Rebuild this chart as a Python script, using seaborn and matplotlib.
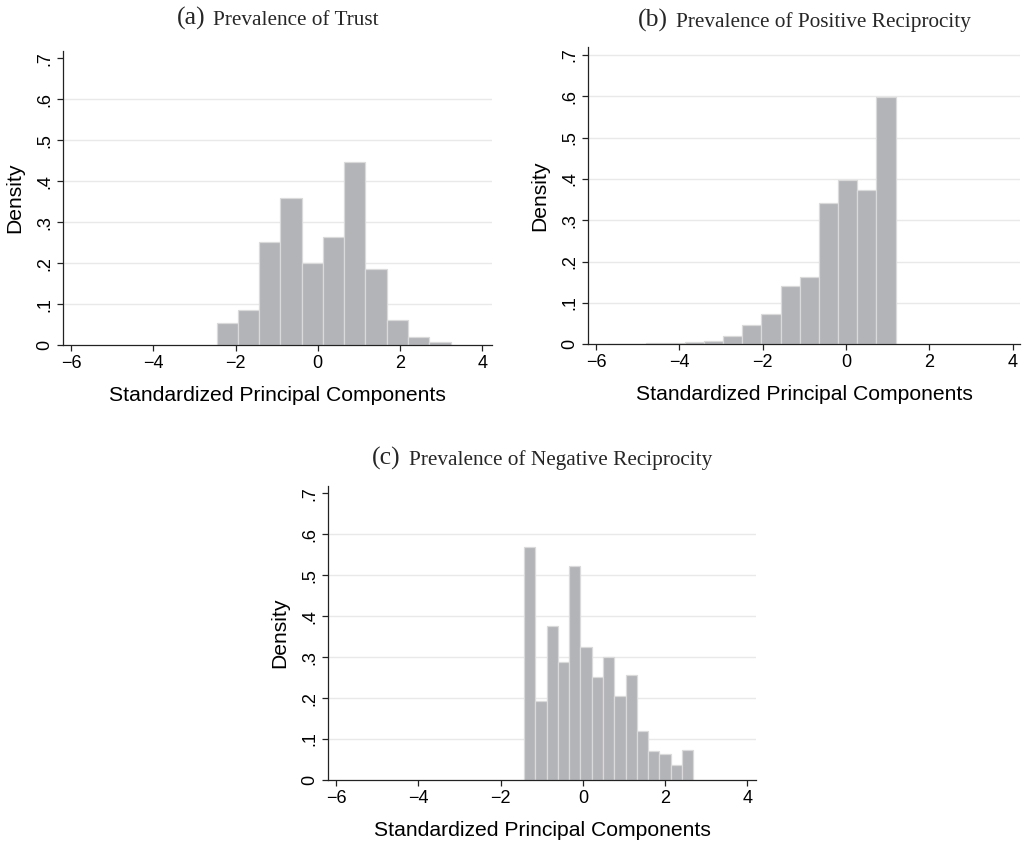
import numpy as np
import pandas as pd
import matplotlib
matplotlib.use("Agg")
import matplotlib.pyplot as plt
import seaborn as sns

# ---------------- data ----------------
# Panel (a) Trust
trust_start = -2.46
trust_width = 0.517
trust_heights = [0.054, 0.085, 0.252, 0.359, 0.200, 0.264, 0.448, 0.186, 0.062, 0.019, 0.0066]

# Panel (b) Positive reciprocity
posrec_start = -5.715
posrec_width = 0.4603
posrec_heights = [0.001, 0.001, 0.002, 0.003, 0.0056, 0.0087, 0.019, 0.046, 0.0726,
                  0.141, 0.164, 0.343, 0.398, 0.373, 0.599]

# Panel (c) Negative reciprocity
negrec_start = -1.429
negrec_width = 0.2744
negrec_heights = [0.568, 0.192, 0.375, 0.287, 0.523, 0.324, 0.2515, 0.301, 0.206,
                  0.2556, 0.1205, 0.0716, 0.064, 0.0366, 0.073]

titles = [("(a)", "Prevalence of Trust"),
          ("(b)", "Prevalence of Positive Reciprocity"),
          ("(c)", "Prevalence of Negative Reciprocity")]
xlabel = "Standardized Principal Components"
ylabel = "Density"
xticks = [-6, -4, -2, 0, 2, 4]
xtick_labels = ["\u22126", "\u22124", "\u22122", "0", "2", "4"]
yticks = [0, 0.1, 0.2, 0.3, 0.4, 0.5, 0.6, 0.7]
ytick_labels = ["0", ".1", ".2", ".3", ".4", ".5", ".6", ".7"]

# ---------------- style ----------------
sns.set_theme(style="white")
plt.rcParams['font.family'] = ['Liberation Sans', 'DejaVu Sans']

W, H = 1022, 844
fig = plt.figure(figsize=(W / 100, H / 100), dpi=100)

BAR = "#b3b4b8"
EDGE = "#dadada"
GRID = "#e9e9e9"

panels = [
    dict(start=trust_start, width=trust_width, heights=trust_heights,
         rect=(63.3, 50.7, 491.7, 345.0), xlim=(-6.187, 4.228), ylim=(0, 0.719),
         grid=yticks[1:7], title=titles[0], tbase=25),
    dict(start=posrec_start, width=posrec_width, heights=posrec_heights,
         rect=(588.3, 46.7, 1020.0, 344.3), xlim=(-6.185, 4.175), ylim=(0, 0.72),
         grid=yticks[1:8], title=titles[1], tbase=27),
    dict(start=negrec_start, width=negrec_width, heights=negrec_heights,
         rect=(328.3, 486.0, 756.0, 780.0), xlim=(-6.187, 4.21), ylim=(0, 0.718),
         grid=yticks[1:7], title=titles[2], tbase=465),
]

title_parts = []
for p in panels:
    l, t, r, b = p["rect"]
    ax = fig.add_axes([l / W, 1 - b / H, (r - l) / W, (b - t) / H])
    n = len(p["heights"])
    edges = [float(e) for e in p["start"] + p["width"] * np.arange(n + 1)]
    centers = [(edges[i] + edges[i + 1]) / 2 for i in range(n)]
    df = pd.DataFrame({"x": centers, "w": list(p["heights"])})
    sns.histplot(data=df, x="x", weights="w", bins=edges, stat="count",
                 color=BAR, edgecolor=EDGE, linewidth=0.9, alpha=1.0, ax=ax, zorder=2)
    for g in p["grid"]:
        ax.axhline(g, color=GRID, lw=1.0, zorder=0)
    ax.set_xlim(*p["xlim"])
    ax.set_ylim(*p["ylim"])
    ax.set_xticks(xticks)
    ax.set_xticklabels(xtick_labels)
    ax.set_yticks(yticks)
    ax.set_yticklabels(ytick_labels, rotation=90, va="center")
    for s in ["top", "right"]:
        ax.spines[s].set_visible(False)
    for s in ["left", "bottom"]:
        ax.spines[s].set_color("#222222")
        ax.spines[s].set_linewidth(0.9)
    ax.tick_params(axis="both", direction="out", length=4, width=0.9, color="#222222",
                   labelsize=13, pad=3, left=True, bottom=True, labelcolor="black")
    ax.set_xlabel(xlabel, fontsize=15.2, labelpad=10, color="black")
    ax.set_ylabel(ylabel, fontsize=15.2, labelpad=9, color="black")
    ax.set_facecolor("white")
    cx = (l + r) / 2
    t1 = fig.text(0, 1 - p["tbase"] / H, p["title"][0], fontsize=18.5,
                  family="Liberation Serif", va="baseline", ha="left")
    t2 = fig.text(0, 1 - p["tbase"] / H, p["title"][1], fontsize=15.3,
                  family="Liberation Serif", va="baseline", ha="left")
    title_parts.append((t1, t2, cx))

fig.canvas.draw()
renderer = fig.canvas.get_renderer()
GAP = 8
for t1, t2, cx in title_parts:
    w1 = t1.get_window_extent(renderer).width
    w2 = t2.get_window_extent(renderer).width
    x0 = cx - (w1 + GAP + w2) / 2
    t1.set_x(x0 / W)
    t2.set_x((x0 + w1 + GAP) / W)

fig.savefig("out.png", dpi=100, facecolor="white")
